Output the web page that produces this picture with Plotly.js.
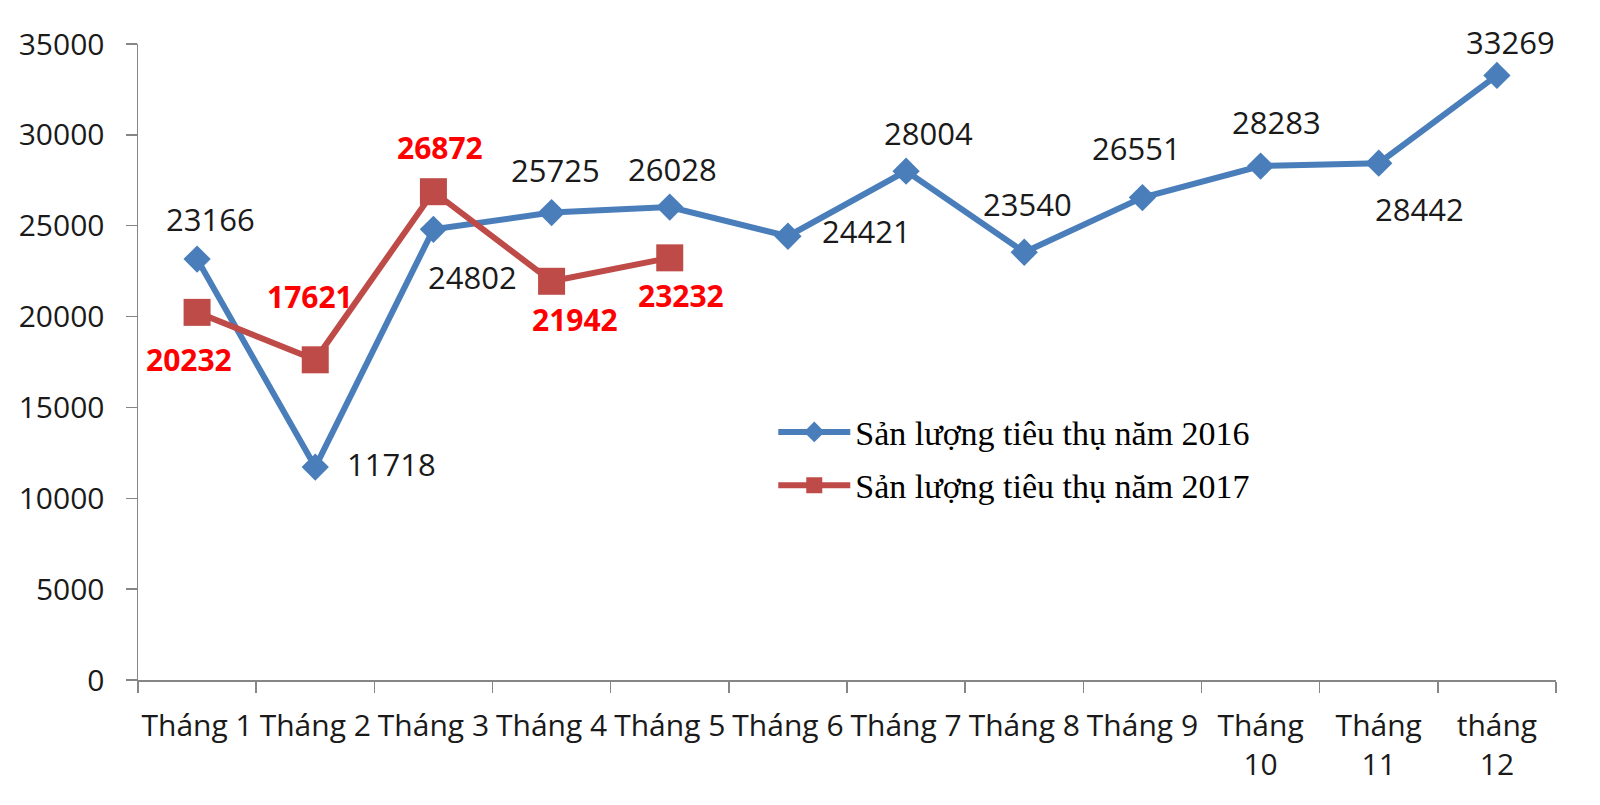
<!DOCTYPE html>
<html>
<head>
<meta charset="utf-8">
<script src="https://cdn.plot.ly/plotly-3.0.1.min.js"></script>
<style>
html,body{margin:0;padding:0;background:#fff;}
#chart{width:1600px;height:805px;}
</style>
</head>
<body>
<div id="chart"></div>
<script>
// ---- data ----
const categories = ["Tháng 1","Tháng 2","Tháng 3","Tháng 4","Tháng 5","Tháng 6","Tháng 7","Tháng 8","Tháng 9","Tháng 10","Tháng 11","tháng 12"];
const tickLabels = ["Tháng 1","Tháng 2","Tháng 3","Tháng 4","Tháng 5","Tháng 6","Tháng 7","Tháng 8","Tháng 9","Tháng<br>10","Tháng<br>11","tháng<br>12"];
const series2016Name = "Sản lượng tiêu thụ năm 2016";
const series2017Name = "Sản lượng tiêu thụ năm 2017";
const values2016 = [23166, 11718, 24802, 25725, 26028, 24421, 28004, 23540, 26551, 28283, 28442, 33269];
const values2017 = [20232, 17621, 26872, 21942, 23232];

// ---- label placement (pixel offsets from each point) ----
const offsets2016 = [[13,40],[76,3],[39,-48],[4,43],[3,38],[79,5],[22,38],[3,48],[-6,50],[16,44],[41,-46],[14,33]];
const offsets2017 = [[-8,-47],[-5,63],[7,44],[23,-38],[11,-38]];

const blue = "#4A7EBB";
const red = "#BE4B48";
const sans = "Open Sans, Noto Sans, sans-serif";
const tickFont = {family: sans, size: 30, color: "#1a1a1a"};

const traces = [
  {
    x: categories.slice(0, values2016.length), y: values2016, name: series2016Name,
    legendgroup: "a",
    type: "scatter", mode: "lines+markers",
    line: {color: blue, width: 6},
    marker: {symbol: "diamond", size: 21, color: blue}
  },
  {
    x: categories.slice(0, values2017.length), y: values2017, name: series2017Name,
    legendgroup: "b",
    type: "scatter", mode: "lines+markers",
    line: {color: red, width: 6},
    marker: {symbol: "square", size: 27, color: red}
  }
];

const annotations = [];
values2016.forEach((v, i) => annotations.push({
  x: categories[i], y: v, xref: "x", yref: "y", text: String(v), showarrow: false,
  xshift: offsets2016[i][0], yshift: offsets2016[i][1],
  font: {family: sans, size: 31, color: "#1a1a1a"}
}));
values2017.forEach((v, i) => annotations.push({
  x: categories[i], y: v, xref: "x", yref: "y", text: "<b>" + v + "</b>", showarrow: false,
  xshift: offsets2017[i][0], yshift: offsets2017[i][1],
  font: {family: sans, size: 30, color: "#FF0000"}
}));

const layout = {
  width: 1600, height: 805,
  margin: {l: 138, r: 44, t: 44, b: 125},
  paper_bgcolor: "#fff", plot_bgcolor: "#fff",
  showlegend: true,
  legend: {
    x: 0.448, y: 0.435, xanchor: "left", yanchor: "top",
    font: {family: "Liberation Serif, Times New Roman, serif", size: 34, color: "#000"},
    bgcolor: "rgba(0,0,0,0)", traceorder: "grouped", tracegroupgap: 6, itemwidth: 72
  },
  xaxis: {
    type: "category", categoryarray: categories,
    tickvals: categories, ticktext: tickLabels,
    range: [-0.5, 11.5],
    showline: true, linecolor: "#868686", linewidth: 1.5,
    ticks: "outside", tickson: "boundaries", ticklen: 11, tickcolor: "#868686", tickwidth: 1.5,
    showgrid: false, zeroline: false, tickangle: 0,
    ticklabelstandoff: 18,
    tickfont: tickFont
  },
  yaxis: {
    range: [0, 35000], dtick: 5000, tick0: 0, tickformat: "d",
    showline: true, linecolor: "#868686", linewidth: 1.5,
    ticks: "outside", ticklen: 11, tickcolor: "#868686", tickwidth: 1.5,
    showgrid: false, zeroline: false,
    ticklabelstandoff: 15,
    tickfont: tickFont
  },
  annotations: annotations
};

Plotly.newPlot("chart", traces, layout, {displayModeBar: false, staticPlot: true});
</script>
</body>
</html>
